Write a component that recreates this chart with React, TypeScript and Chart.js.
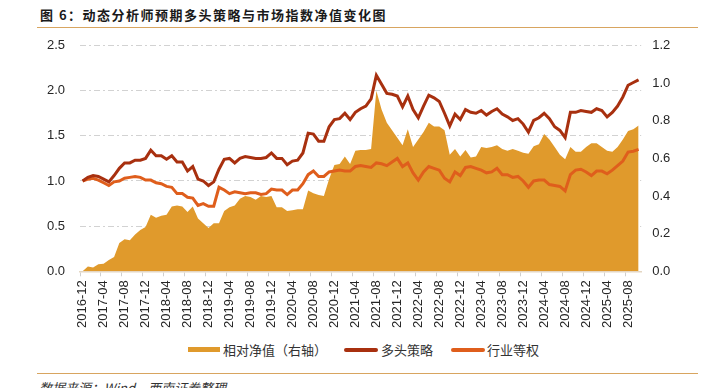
import React, { useEffect, useRef } from 'react';
import { Chart, registerables } from 'chart.js';

Chart.register(...registerables);

const months = [
  '2016-12',
  '2017-01', '2017-02', '2017-03', '2017-04', '2017-05', '2017-06', '2017-07', '2017-08', '2017-09', '2017-10', '2017-11', '2017-12',
  '2018-01', '2018-02', '2018-03', '2018-04', '2018-05', '2018-06', '2018-07', '2018-08', '2018-09', '2018-10', '2018-11', '2018-12',
  '2019-01', '2019-02', '2019-03', '2019-04', '2019-05', '2019-06', '2019-07', '2019-08', '2019-09', '2019-10', '2019-11', '2019-12',
  '2020-01', '2020-02', '2020-03', '2020-04', '2020-05', '2020-06', '2020-07', '2020-08', '2020-09', '2020-10', '2020-11', '2020-12',
  '2021-01', '2021-02', '2021-03', '2021-04', '2021-05', '2021-06', '2021-07', '2021-08', '2021-09', '2021-10', '2021-11', '2021-12',
  '2022-01', '2022-02', '2022-03', '2022-04', '2022-05', '2022-06', '2022-07', '2022-08', '2022-09', '2022-10', '2022-11', '2022-12',
  '2023-01', '2023-02', '2023-03', '2023-04', '2023-05', '2023-06', '2023-07', '2023-08', '2023-09', '2023-10', '2023-11', '2023-12',
  '2024-01', '2024-02', '2024-03', '2024-04', '2024-05', '2024-06', '2024-07', '2024-08', '2024-09', '2024-10', '2024-11', '2024-12',
  '2025-01', '2025-02', '2025-03', '2025-04', '2025-05', '2025-06', '2025-07', '2025-08', '2025-09', '2025-10',
];

// 多头策略 (left axis)
const strategy = [
  1.00, 1.04, 1.06, 1.05, 1.02, 0.99, 1.06, 1.14, 1.20, 1.20,
  1.23, 1.23, 1.25, 1.34, 1.28, 1.28, 1.24, 1.28, 1.21, 1.21,
  1.11, 1.16, 1.02, 1.00, 0.95, 0.99, 1.13, 1.24, 1.25, 1.20,
  1.25, 1.27, 1.26, 1.25, 1.25, 1.26, 1.31, 1.25, 1.25, 1.18,
  1.22, 1.23, 1.31, 1.53, 1.52, 1.44, 1.44, 1.60, 1.68, 1.69,
  1.75, 1.68, 1.76, 1.80, 1.83, 1.91, 2.17, 2.07, 1.97, 1.96,
  1.94, 1.82, 1.94, 1.79, 1.70, 1.83, 1.95, 1.92, 1.88, 1.75,
  1.61, 1.74, 1.68, 1.79, 1.76, 1.75, 1.78, 1.73, 1.77, 1.80,
  1.74, 1.71, 1.67, 1.69, 1.63, 1.54, 1.67, 1.70, 1.75, 1.69,
  1.60, 1.56, 1.48, 1.76, 1.76, 1.78, 1.77, 1.76, 1.80, 1.78,
  1.71, 1.76, 1.83, 1.93, 2.06, 2.09, 2.12,
];

// 行业等权 (left axis)
const industry = [
  1.00, 1.02, 1.03, 1.01, 0.98, 0.95, 0.99, 1.00, 1.03, 1.04,
  1.05, 1.04, 1.01, 1.01, 0.98, 0.97, 0.94, 0.93, 0.86, 0.86,
  0.82, 0.81, 0.73, 0.75, 0.72, 0.72, 0.93, 0.90, 0.86, 0.88,
  0.87, 0.86, 0.87, 0.87, 0.85, 0.86, 0.91, 0.90, 0.90, 0.85,
  0.90, 0.90, 0.97, 1.07, 1.11, 1.05, 1.05, 1.10, 1.11, 1.12,
  1.11, 1.11, 1.16, 1.17, 1.16, 1.15, 1.20, 1.19, 1.17, 1.21,
  1.25, 1.16, 1.20, 1.09, 1.01, 1.10, 1.16, 1.14, 1.12, 1.03,
  0.99, 1.10, 1.06, 1.15, 1.16, 1.14, 1.12, 1.09, 1.10, 1.14,
  1.07, 1.07, 1.04, 1.05, 1.00, 0.93, 1.00, 1.01, 1.01, 0.96,
  0.95, 0.94, 0.89, 1.07, 1.12, 1.13, 1.10, 1.06, 1.11, 1.11,
  1.08, 1.12, 1.17, 1.22, 1.32, 1.33, 1.35,
];

// 相对净值（右轴）
const relative = [
  0.00, 0.025, 0.02, 0.037, 0.04, 0.06, 0.076, 0.15, 0.17, 0.165,
  0.195, 0.22, 0.235, 0.30, 0.285, 0.295, 0.30, 0.345, 0.35, 0.345,
  0.315, 0.345, 0.28, 0.255, 0.23, 0.255, 0.255, 0.32, 0.34, 0.35,
  0.385, 0.40, 0.395, 0.38, 0.40, 0.395, 0.40, 0.34, 0.34, 0.32,
  0.325, 0.33, 0.33, 0.43, 0.415, 0.405, 0.40, 0.49, 0.565, 0.57,
  0.61, 0.57, 0.64, 0.645, 0.645, 0.65, 0.96, 0.86, 0.79, 0.75,
  0.71, 0.67, 0.755, 0.66, 0.70, 0.74, 0.79, 0.77, 0.77, 0.75,
  0.62, 0.65, 0.61, 0.645, 0.605, 0.61, 0.66, 0.655, 0.66, 0.67,
  0.65, 0.64, 0.65, 0.64, 0.63, 0.625, 0.665, 0.675, 0.73, 0.70,
  0.66, 0.62, 0.595, 0.66, 0.635, 0.635, 0.66, 0.68, 0.68, 0.66,
  0.64, 0.635, 0.66, 0.70, 0.745, 0.755, 0.775,
];

const leftAxis = { min: 0, max: 2.5, step: 0.5 };
const rightAxis = { min: 0, max: 1.2, step: 0.2 };
const labelEvery = 4;

const seriesNames = ['相对净值（右轴）', '多头策略', '行业等权'];
const titleText = '图 6：动态分析师预期多头策略与市场指数净值变化图';
const sourceText = '数据来源：Wind，西南证券整理';

const C_AREA = '#E09A2C';
const C_STRAT = '#A8300F';
const C_IND = '#DF5E1C';
const C_RULE = '#D8A560';

const tickFont = { family: '"Liberation Sans", Arial, sans-serif', size: 13 };
const cjk = '"Noto Sans CJK SC", "Noto Sans", sans-serif';

export default function App() {
  const ref = useRef<HTMLCanvasElement | null>(null);

  useEffect(() => {
    if (!ref.current) return;
    const chart = new Chart(ref.current, {
      type: 'line',
      data: {
        labels: months,
        datasets: [
          {
            label: seriesNames[0],
            data: relative,
            yAxisID: 'y1',
            fill: 'origin',
            backgroundColor: C_AREA,
            borderColor: C_AREA,
            borderWidth: 0,
            pointRadius: 0,
            order: 3,
          },
          {
            label: seriesNames[1],
            data: strategy,
            yAxisID: 'y',
            fill: false,
            borderColor: C_STRAT,
            borderWidth: 3,
            pointRadius: 0,
            order: 1,
          },
          {
            label: seriesNames[2],
            data: industry,
            yAxisID: 'y',
            fill: false,
            borderColor: C_IND,
            borderWidth: 3,
            pointRadius: 0,
            order: 2,
          },
        ],
      },
      options: {
        animation: false,
        responsive: false,
        maintainAspectRatio: false,
        devicePixelRatio: 1,
        layout: { padding: { top: 45.5, left: 0, right: 0, bottom: 0 } },
        plugins: { legend: { display: false }, tooltip: { enabled: false } },
        elements: { line: { tension: 0 }, point: { radius: 0 } },
        scales: {
          x: {
            type: 'category',
            offset: true,
            grid: {
              offset: true,
              drawOnChartArea: false,
              drawTicks: true,
              tickLength: 5,
              lineWidth: 1,
              color: (ctx: any) => (ctx.index % labelEvery === 0 ? '#CFCFCF' : 'rgba(0,0,0,0)'),
              tickColor: (ctx: any) => (ctx.index % labelEvery === 0 ? '#CFCFCF' : 'rgba(0,0,0,0)'),
            },
            border: { display: true, color: '#E4D6C2', width: 1.5, z: 1 },
            ticks: {
              autoSkip: false,
              maxRotation: 90,
              minRotation: 90,
              padding: 4,
              font: tickFont,
              color: '#262626',
              callback: (_v: any, i: number) => (i % labelEvery === 0 ? months[i] : ''),
            },
            afterFit: (s: any) => {
              s.height = 68.7;
            },
          },
          y: {
            position: 'left',
            min: leftAxis.min,
            max: leftAxis.max,
            ticks: {
              stepSize: leftAxis.step,
              padding: 15,
              font: tickFont,
              color: '#262626',
              callback: (v: any) => Number(v).toFixed(1),
            },
            grid: {
              drawTicks: false,
              lineWidth: 1,
              color: (ctx: any) =>
                ctx.tick && Math.abs(ctx.tick.value) < 1e-9 ? 'rgba(0,0,0,0)' : '#D2D2D2',
            },
            border: { display: false, dash: [6, 3, 2, 3] },
            afterFit: (s: any) => {
              s.width = 80;
            },
          },
          y1: {
            position: 'right',
            min: rightAxis.min,
            max: rightAxis.max,
            ticks: {
              stepSize: rightAxis.step,
              padding: 11,
              font: tickFont,
              color: '#262626',
              callback: (v: any) => Number(v).toFixed(1),
            },
            grid: { display: false, drawTicks: false },
            border: { display: false },
            afterFit: (s: any) => {
              s.width = 71.8;
            },
          },
        },
      },
    } as any);
    return () => chart.destroy();
  }, []);

  const legendText: React.CSSProperties = {
    position: 'absolute',
    top: 341,
    fontFamily: cjk,
    fontSize: 13,
    lineHeight: '17px',
    color: '#333',
    whiteSpace: 'nowrap',
  };

  return (
    <div
      style={{
        position: 'fixed',
        left: 0,
        top: 0,
        width: 713,
        height: 388,
        background: '#fff',
        overflow: 'hidden',
      }}
    >
      <div
        style={{
          position: 'absolute',
          left: 40,
          top: 6,
          fontFamily: cjk,
          fontWeight: 700,
          fontSize: 13,
          letterSpacing: '1.5px',
          lineHeight: '18px',
          color: '#1a1a1a',
          whiteSpace: 'nowrap',
        }}
      >
        {titleText}
      </div>
      <div style={{ position: 'absolute', left: 37, top: 26.5, width: 661, height: 1.5, background: C_RULE }} />
      <canvas
        ref={ref}
        width={713}
        height={340}
        style={{ position: 'absolute', left: 0, top: 0, width: 713, height: 340 }}
      />
      <div style={{ position: 'absolute', left: 188, top: 347, width: 32, height: 5, background: C_AREA }} />
      <div style={{ ...legendText, left: 223 }}>{seriesNames[0]}</div>
      <div style={{ position: 'absolute', left: 344, top: 347.5, width: 34, height: 4, borderRadius: 2, background: C_STRAT }} />
      <div style={{ ...legendText, left: 381 }}>{seriesNames[1]}</div>
      <div style={{ position: 'absolute', left: 451, top: 347.5, width: 34, height: 4, borderRadius: 2, background: C_IND }} />
      <div style={{ ...legendText, left: 487 }}>{seriesNames[2]}</div>
      <div style={{ position: 'absolute', left: 37, top: 372.5, width: 661, height: 1.5, background: C_RULE }} />
      <div
        style={{
          position: 'absolute',
          left: 39,
          top: 381,
          fontFamily: cjk,
          fontStyle: 'italic',
          fontSize: 13,
          lineHeight: '13px',
          color: '#333',
          whiteSpace: 'nowrap',
        }}
      >
        {sourceText}
      </div>
    </div>
  );
}
